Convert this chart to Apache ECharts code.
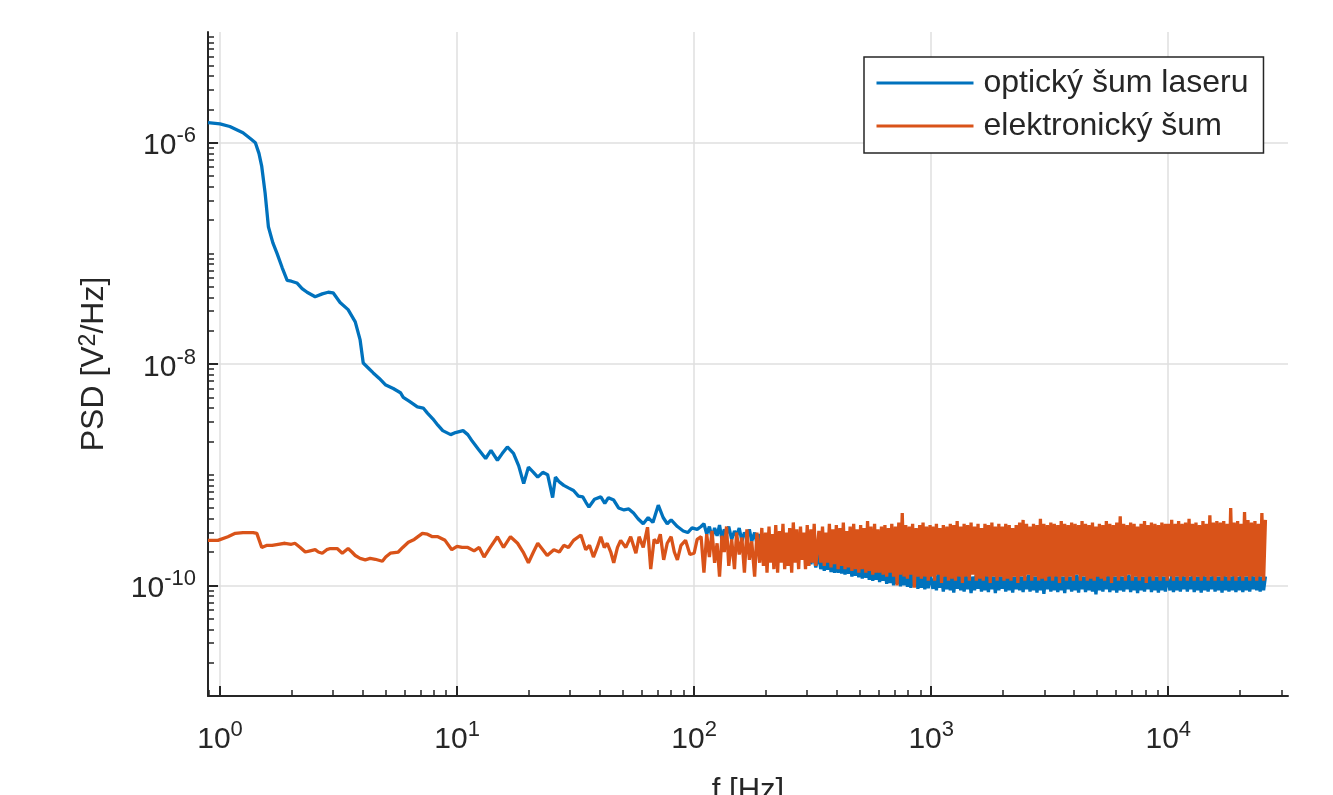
<!DOCTYPE html>
<html><head><meta charset="utf-8">
<script src="https://cdn.jsdelivr.net/npm/echarts@6/dist/echarts.min.js"></script>
<style>html,body{margin:0;padding:0;background:#fff}#c{width:1333px;height:795px}</style>
</head><body><div id="c"></div><script>
// PSD values are stored in units of 1e-10 V^2/Hz
const UNIT = 1e-10;
const seriesNames = ['optický šum laseru', 'elektronický šum'];
const xMajor = [1, 10, 100, 1000, 10000];
const xMinor = [0.9, 2, 3, 4, 5, 6, 7, 8, 9, 20, 30, 40, 50, 60, 70, 80, 90, 200, 300, 400, 500, 600, 700, 800, 900,
  2000, 3000, 4000, 5000, 6000, 7000, 8000, 9000, 20000, 30000];
const yMajor = [1e-10, 1e-8, 1e-6];
const yMinor = [2e-11, 3e-11, 4e-11, 5e-11, 6e-11, 7e-11, 8e-11, 9e-11,
  2e-10, 3e-10, 4e-10, 5e-10, 6e-10, 7e-10, 8e-10, 9e-10, 1e-9,
  2e-9, 3e-9, 4e-9, 5e-9, 6e-9, 7e-9, 8e-9, 9e-9,
  2e-8, 3e-8, 4e-8, 5e-8, 6e-8, 7e-8, 8e-8, 9e-8, 1e-7,
  2e-7, 3e-7, 4e-7, 5e-7, 6e-7, 7e-7, 8e-7, 9e-7,
  2e-6, 3e-6, 4e-6, 5e-6, 6e-6, 7e-6, 8e-6, 9e-6];

// low-frequency part: [f (Hz), PSD (1e-10 V^2/Hz)]
const blueLow = [[0.89,15200],[1.0,14800],[1.1,14000],[1.25,12300],[1.35,10800],[1.41,10000],[1.46,8000],[1.5,6100],[1.55,3500],[1.6,1740],
  [1.67,1250],[1.74,1000],[1.83,740],[1.92,570],[2.0,560],[2.11,540],[2.22,480],[2.33,445],[2.52,405],[2.7,430],
  [2.86,445],[3.0,440],[3.21,360],[3.47,310],[3.72,240],[3.9,165],[4.02,102],[4.2,93],[4.43,83],[4.7,74],
  [4.98,65],[5.38,60],[5.77,55],[5.93,50],[6.3,46],[6.8,41],[7.2,40],[7.5,36],[7.9,32],[8.3,28],
  [8.7,25],[9.4,23],[9.85,24],[10.6,25],[11.1,23],[11.6,20],[12.3,17],[13.2,14],[13.9,16.6],[14.8,13.5],
  [15.5,15.5],[16.3,17.8],[17.3,15.6],[18.2,12],[19.1,8.3],[20,11.7],[21,10.5],[21.9,9.5],[23,10.5],[24.1,10],
  [25.3,6.2],[26,9.5],[27,8.6],[28.2,8],[29.5,7.6],[31,7.2],[32.5,6.4],[33.9,6.3],[35,5.6],[36,5.1],
  [38,6.0],[40.4,6.3],[42,5.5],[43.5,6.2],[45.8,5.9],[48,5.0],[50.6,4.8],[53,4.9],[55.5,4.5],[58,4.0],
  [61,3.6],[64,4.1],[67,3.7],[70.6,5.3],[74,4.1],[77,3.6],[80,3.9],[85,3.4],[90,3.1],[94,3.0],
  [98,3.3],[103,3.2],[107,3.4]];
const orangeLow = [[0.89,2.55],[0.98,2.55],[1.08,2.75],[1.16,2.95],[1.25,3.0],[1.38,3.0],[1.43,2.95],[1.5,2.2],[1.58,2.3],[1.66,2.3],
  [1.76,2.35],[1.88,2.4],[2.0,2.35],[2.07,2.4],[2.18,2.2],[2.29,2.0],[2.4,2.05],[2.52,2.1],[2.6,2.0],[2.7,1.95],
  [2.82,2.1],[2.92,2.15],[3.12,2.15],[3.28,1.95],[3.47,2.15],[3.6,2.0],[3.72,1.86],[3.9,1.75],[4.1,1.7],[4.3,1.75],
  [4.52,1.72],[4.84,1.65],[5.0,1.8],[5.23,1.95],[5.65,2.0],[5.9,2.2],[6.23,2.45],[6.6,2.6],[7.14,2.95],[7.5,2.9],
  [7.87,2.75],[8.3,2.75],[8.9,2.55],[9.5,2.1],[10.0,2.25],[10.5,2.2],[11.1,2.2],[11.8,2.05],[12.4,2.2],[13.0,1.8],
  [13.8,2.2],[14.8,2.75],[15.7,2.2],[16.8,2.75],[18,2.4],[19,2.0],[20,1.6],[21,2.0],[21.9,2.4],[23,2.1],
  [24,1.86],[25.6,2.1],[27,2.0],[28.2,2.3],[29.5,2.2],[31,2.55],[33.3,2.85],[34.9,2.1],[36.2,2.3],[37.6,1.8],
  [39,2.2],[40.4,2.75],[41.8,2.2],[43,2.4],[44.5,2.0],[45.8,1.6],[47.5,2.2],[49,2.55],[51.5,2.2],[54,2.75],
  [56.8,1.95],[58.6,2.75],[61,2.2],[63.6,3.35],[65.6,1.4],[67.8,2.6],[70,2.4],[72,2.9],[74.4,1.7],[77,2.4],
  [80,2.75],[82.5,2.0],[85,1.7],[88,2.3],[92,2.55],[96,1.9],[100,1.95],[103,2.6],[107,2.75]];

// noisy part, segment A: 110 - 331 Hz
const freqA = [110,113,116,119,122,125,128,131,134,137, 140,144,148,151,155,159,163,167,171,175, 180,184,189,
  193,196,200,203,207,210,214,217,221,225, 229,233,237,241,245,249,253,258,262,267,
  271,276,281,285,290,295,300,305,311,316, 321,326];
const blueA = [3.6,2.9,3.4,2.7,3.3,2.8,3.5,2.6,3.2,2.9, 3.4,2.6,3.1,2.8,3.3,2.5,3.0,2.7,3.2,2.5, 3.0,2.4,2.9,
  2.3,2.8,2.2,2.75,2.25,2.7,2.1,2.6,2.15,2.55, 2.0,2.5,2.05,2.45,1.9,2.4,1.95,2.35,1.8,2.3,
  1.85,2.2,1.75,2.15,1.7,2.1,1.6,2.05,1.55,2.0, 1.95,1.45];
const orangeA = [1.3,2.9,1.8,3.1,1.6,2.4,1.2,2.8,2.0,3.4, 1.5,2.6,1.4,3.0,1.9,2.7,1.3,3.2,1.7,2.5, 1.2,3.0,1.6,
  3.3,1.5,3.0,1.3,3.4,1.6,2.9,1.4,3.5,1.3, 3.1,1.6,3.6,1.4,3.0,1.5,3.3,1.3,3.7,1.6,
  3.2,1.4,3.4,1.7,3.0,1.4,3.5,1.5,3.2,1.6, 3.6,1.5];

// segment B: 336 - 989 Hz
const freqB = [336,342,348,354,360,366,372,378,385,391, 398,405,412,419,426,433,440,448,455,463,
  471,479,487,495,504,512,521,530,539,548, 557,567,577,586,596,606,617,627,638,649,
  660,671,682,694,706,718,730,742,755,768, 781,794,808,821,835,849,864,879,894,909, 924,940,956,972,989];
const blueB = [1.9,1.4,1.85,1.35,1.8,1.38,1.85,1.32,1.75,1.3, 1.8,1.3,1.7,1.28,1.75,1.25,1.7,1.27,1.65,1.2,
  1.7,1.22,1.6,1.18,1.65,1.15,1.6,1.17,1.55,1.12, 1.6,1.1,1.5,1.12,1.55,1.07,1.5,1.1,1.45,1.03,
  1.5,1.05,1.45,1.0,1.4,1.03,1.45,0.98,1.4,1.0, 1.35,0.97,1.4,0.95,1.35,0.98,1.3,0.93,1.35,0.95, 1.3,0.92,1.3,0.94,1.25];
const orangeB = [3.1,1.6,3.4,1.5,3.0,1.6,3.6,1.45,3.2,1.55, 3.5,1.4,3.3,1.5,3.7,1.4,3.1,1.45,3.4,1.35,
  3.6,1.4,3.2,1.3,3.5,1.4,3.3,1.3,3.8,1.35, 3.4,1.25,3.6,1.3,3.2,1.3,3.4,1.25,3.5,1.2,
  3.3,1.3,3.6,1.2,3.4,1.0,3.7,1.25,4.5,1.2, 3.5,1.15,3.4,1.25,3.6,0.95,3.3,1.2,3.5,1.15, 3.7,1.2,3.4,1.1,3.5];

// segment C: 1000 - 9887 Hz
const freqC = [1000,1017,1034,1052,1070,1088,1106,1125,1144,1164, 1183,1204,1224,1245,1266,1287,1309,1332,1354,1377,
  1401,1424,1449,1473,1498,1524,1550,1576,1603,1630, 1658,1686,1714,1743,1773,1803,1834,1865,1897,1929,
  1962,1995,2029,2063,2098,2134,2170,2207,2244,2283, 2321,2361,2401,2442,2483,2525,2568,2612,2656,2701,
  2747,2794,2841,2889,2938,2988,3039,3091,3143,3197, 3251,3306,3362,3420,3478,3537,3597,3658,3720,3783,
  3848,3913,3979,4047,4116,4186,4257,4329,4403,4478, 4554,4631,4710,4790,4871,4954,5038,5124,5211,5299,
  5389,5481,5574,5669,5765,5863,5963,6064,6167,6272, 6379,6487,6597,6710,6824,6940,7058,7178,7300,7424,
  7550,7678,7809,7941,8076,8214,8353,8495,8640,8787, 8936,9088,9242,9399,9559,9722,9887];
const blueC = [1.25,0.93,1.2,0.9,1.3,0.95,1.2,0.88,1.25,0.92, 1.2,0.9,1.25,0.86,1.2,0.93,1.25,0.9,1.2,0.88,
  1.25,0.92,1.2,0.85,1.2,0.9,1.25,0.93,1.2,0.88, 1.2,0.9,1.25,0.87,1.2,0.92,1.2,0.85,1.25,0.9,
  1.2,0.93,1.2,0.88,1.25,0.9,1.2,0.86,1.2,0.92, 1.25,0.9,1.2,0.87,1.2,0.92,1.25,0.88,1.2,0.9,
  1.2,0.86,1.25,0.9,1.2,0.84,1.2,0.92,1.25,0.88, 1.2,0.9,1.25,0.87,1.2,0.9,1.2,0.85,1.25,0.92,
  1.2,0.88,1.2,0.9,1.25,0.86,1.2,0.92,1.2,0.87, 1.25,0.9,1.2,0.88,1.2,0.83,1.25,0.9,1.2,0.88,
  1.2,0.92,1.25,0.87,1.2,0.9,1.2,0.86,1.25,0.9, 1.2,0.88,1.2,0.92,1.25,0.87,1.2,0.9,1.2,0.85,
  1.25,0.9,1.2,0.88,1.2,0.92,1.25,0.87,1.2,0.9, 1.2,0.86,1.25,0.9,1.2,0.88,1.2];
const orangeC = [1.2,3.4,1.1,3.6,1.25,3.3,1.05,3.5,1.2,3.4, 1.1,3.6,1.15,3.5,1.1,3.8,1.2,3.4,1.05,3.6,
  1.2,3.5,1.1,3.7,1.25,3.4,1.1,3.6,1.15,3.3, 1.1,3.6,1.2,3.5,1.05,3.7,1.2,3.4,1.1,3.6,
  1.2,3.4,1.1,3.6,1.15,3.5,1.1,3.3,1.2,3.5, 1.05,3.7,1.2,3.9,1.1,3.6,1.25,3.4,1.1,3.6,
  1.2,3.5,1.1,4.0,1.15,3.6,1.1,3.5,1.2,3.7, 1.1,3.6,1.2,3.5,1.05,3.8,1.2,3.6,1.1,3.5,
  1.2,3.7,1.1,3.6,1.25,3.5,1.1,3.8,1.2,3.6, 1.1,3.5,1.15,3.7,1.1,3.4,1.2,3.6,1.15,3.5,
  1.1,3.8,1.2,3.6,1.05,3.5,1.2,3.7,1.1,4.2, 1.2,3.6,1.1,3.5,1.25,3.7,1.1,3.6,1.2,3.4,
  1.1,3.6,1.2,3.8,1.05,3.5,1.2,3.7,1.1,3.6, 1.2,3.5,1.1,3.7,1.2,3.6,1.1];

// segment D: 10000 - 25700 Hz
const freqD = [10000,10170,10340,10520,10700,10880,11060,11250,11440,11640, 11830,12040,12240,12450,12660,12870,13090,13320,13540,13770,
  14010,14240,14490,14730,14980,15240,15500,15760,16030,16300, 16580,16860,17140,17430,17730,18030,18340,18650,18970,19290,
  19620,19950,20290,20630,20980,21340,21700,22070,22440,22830, 23210,23610,24010,24420,24830,25250,25700];
const blueD = [1.2,0.9,1.25,0.87,1.2,0.9,1.2,0.88,1.25,0.92, 1.2,0.88,1.2,0.92,1.25,0.87,1.2,0.9,1.2,0.86,
  1.25,0.9,1.2,0.88,1.2,0.92,1.25,0.88,1.2,0.9, 1.2,0.86,1.25,0.9,1.2,0.88,1.2,0.9,1.25,0.87,
  1.2,0.9,1.25,0.87,1.2,0.9,1.2,0.88,1.25,0.92, 1.2,0.9,1.25,0.88,1.2,0.9,1.2];
const orangeD = [3.6,1.2,3.9,1.1,3.6,1.2,3.8,1.1,3.6,1.2, 3.7,1.1,4.0,1.2,3.6,1.1,3.7,1.2,3.5,1.1,
  3.8,1.2,3.6,1.1,4.3,1.2,3.7,1.1,3.8,1.2, 3.7,1.1,3.8,1.2,3.6,1.1,5.0,1.2,3.7,1.1,
  3.8,1.2,3.6,1.1,4.6,1.2,3.9,1.1,3.7,1.2, 3.8,1.1,3.6,1.2,4.5,1.1,3.9];

const X_MIN = 0.89, X_MAX = 32000, Y_MIN = 1e-11, Y_MAX = 1e-5;

function build(low, segs) {
  let out = low.map(p => [p[0], p[1] * UNIT]);
  segs.forEach(([fs, vs]) => { out = out.concat(fs.map((f, i) => [f, vs[i] * UNIT])); });
  return out;
}
const blueData = build(blueLow, [[freqA, blueA], [freqB, blueB], [freqC, blueC], [freqD, blueD]]);
const orangeData = build(orangeLow, [[freqA, orangeA], [freqB, orangeB], [freqC, orangeC], [freqD, orangeD]]);

const FONT = '"Liberation Sans", Arial, Helvetica, sans-serif';
const TXT = '#262626';
const GRID = '#dfdfdf';
const LW = 3.3;
function powLabel(v) { return '{b|10}{s|' + Math.round(Math.log10(v)) + '}'; }
const richLab = {
  b: { fontSize: 30, lineHeight: 42, color: TXT, fontFamily: FONT },
  s: { fontSize: 22, lineHeight: 21, verticalAlign: 'top', color: TXT, fontFamily: FONT }
};

const chart = echarts.init(document.getElementById('c'), null, { renderer: 'canvas' });
chart.setOption({
  backgroundColor: '#fff',
  animation: false,
  grid: { left: 208, right: 45, top: 32, bottom: 99, show: false, containLabel: false, outerBoundsMode: 'none' },
  legend: {
    orient: 'vertical', left: 864, top: 57, itemWidth: 97, itemHeight: 34, itemGap: 9,
    padding: [9, 15, 10, 11], backgroundColor: '#fff', borderColor: TXT, borderWidth: 1.5,
    selectedMode: false, data: seriesNames,
    itemStyle: { opacity: 0, color: 'rgba(0,0,0,0)', borderWidth: 0 },
    lineStyle: { width: 3 },
    textStyle: { fontSize: 32, lineHeight: 34, color: TXT, fontFamily: FONT, padding: [0, 0, 0, 5] }
  },
  xAxis: [{
    type: 'log', logBase: 10, min: X_MIN, max: X_MAX, position: 'bottom',
    axisLine: { show: true, onZero: false, lineStyle: { color: TXT, width: 2 } },
    axisTick: { show: true, inside: true, length: 10, customValues: xMajor, lineStyle: { color: TXT, width: 2 } },
    axisLabel: { show: true, customValues: xMajor, formatter: powLabel, margin: 23, rich: richLab, color: TXT, fontFamily: FONT },
    splitLine: { show: true, lineStyle: { color: GRID, width: 1.5 } },
    minorTick: { show: false }, minorSplitLine: { show: false },
    name: 'f [Hz]', nameLocation: 'middle', nameGap: 78,
    nameTextStyle: { fontSize: 31, lineHeight: 34, color: TXT, fontFamily: FONT }
  }, {
    type: 'log', logBase: 10, min: X_MIN, max: X_MAX, position: 'bottom',
    axisLine: { show: false },
    axisTick: { show: true, inside: true, length: 6, customValues: xMinor, lineStyle: { color: TXT, width: 1.5 } },
    axisLabel: { show: false }, splitLine: { show: false }
  }],
  yAxis: [{
    type: 'log', logBase: 10, min: Y_MIN, max: Y_MAX, position: 'left',
    axisLine: { show: true, onZero: false, lineStyle: { color: TXT, width: 2 } },
    axisTick: { show: true, inside: true, length: 10, customValues: yMajor, lineStyle: { color: TXT, width: 2 } },
    axisLabel: { show: true, customValues: yMajor, formatter: powLabel, margin: 12, padding: [7, 0, 0, 0], rich: richLab, color: TXT, fontFamily: FONT },
    splitLine: { show: true, lineStyle: { color: GRID, width: 1.5 } },
    minorTick: { show: false }, minorSplitLine: { show: false },
    name: '{a|PSD [V}{s|2}{a|/Hz]}', nameLocation: 'middle', nameGap: 96,
    nameTextStyle: {
      color: TXT, fontFamily: FONT,
      rich: {
        a: { fontSize: 32, lineHeight: 35, color: TXT, fontFamily: FONT },
        s: { fontSize: 23, lineHeight: 21, verticalAlign: 'top', color: TXT, fontFamily: FONT }
      }
    }
  }, {
    type: 'log', logBase: 10, min: Y_MIN, max: Y_MAX, position: 'left',
    axisLine: { show: false },
    axisTick: { show: true, inside: true, length: 6, customValues: yMinor, lineStyle: { color: TXT, width: 1.5 } },
    axisLabel: { show: false }, splitLine: { show: false }
  }],
  series: [{
    name: seriesNames[0], type: 'line', xAxisIndex: 0, yAxisIndex: 0, data: blueData,
    symbol: 'none', showSymbol: false, lineStyle: { color: '#0072BD', width: LW }, itemStyle: { color: '#0072BD' }
  }, {
    name: seriesNames[1], type: 'line', xAxisIndex: 0, yAxisIndex: 0, data: orangeData,
    symbol: 'none', showSymbol: false, lineStyle: { color: '#D95319', width: LW }, itemStyle: { color: '#D95319' }
  }]
});
</script></body></html>
